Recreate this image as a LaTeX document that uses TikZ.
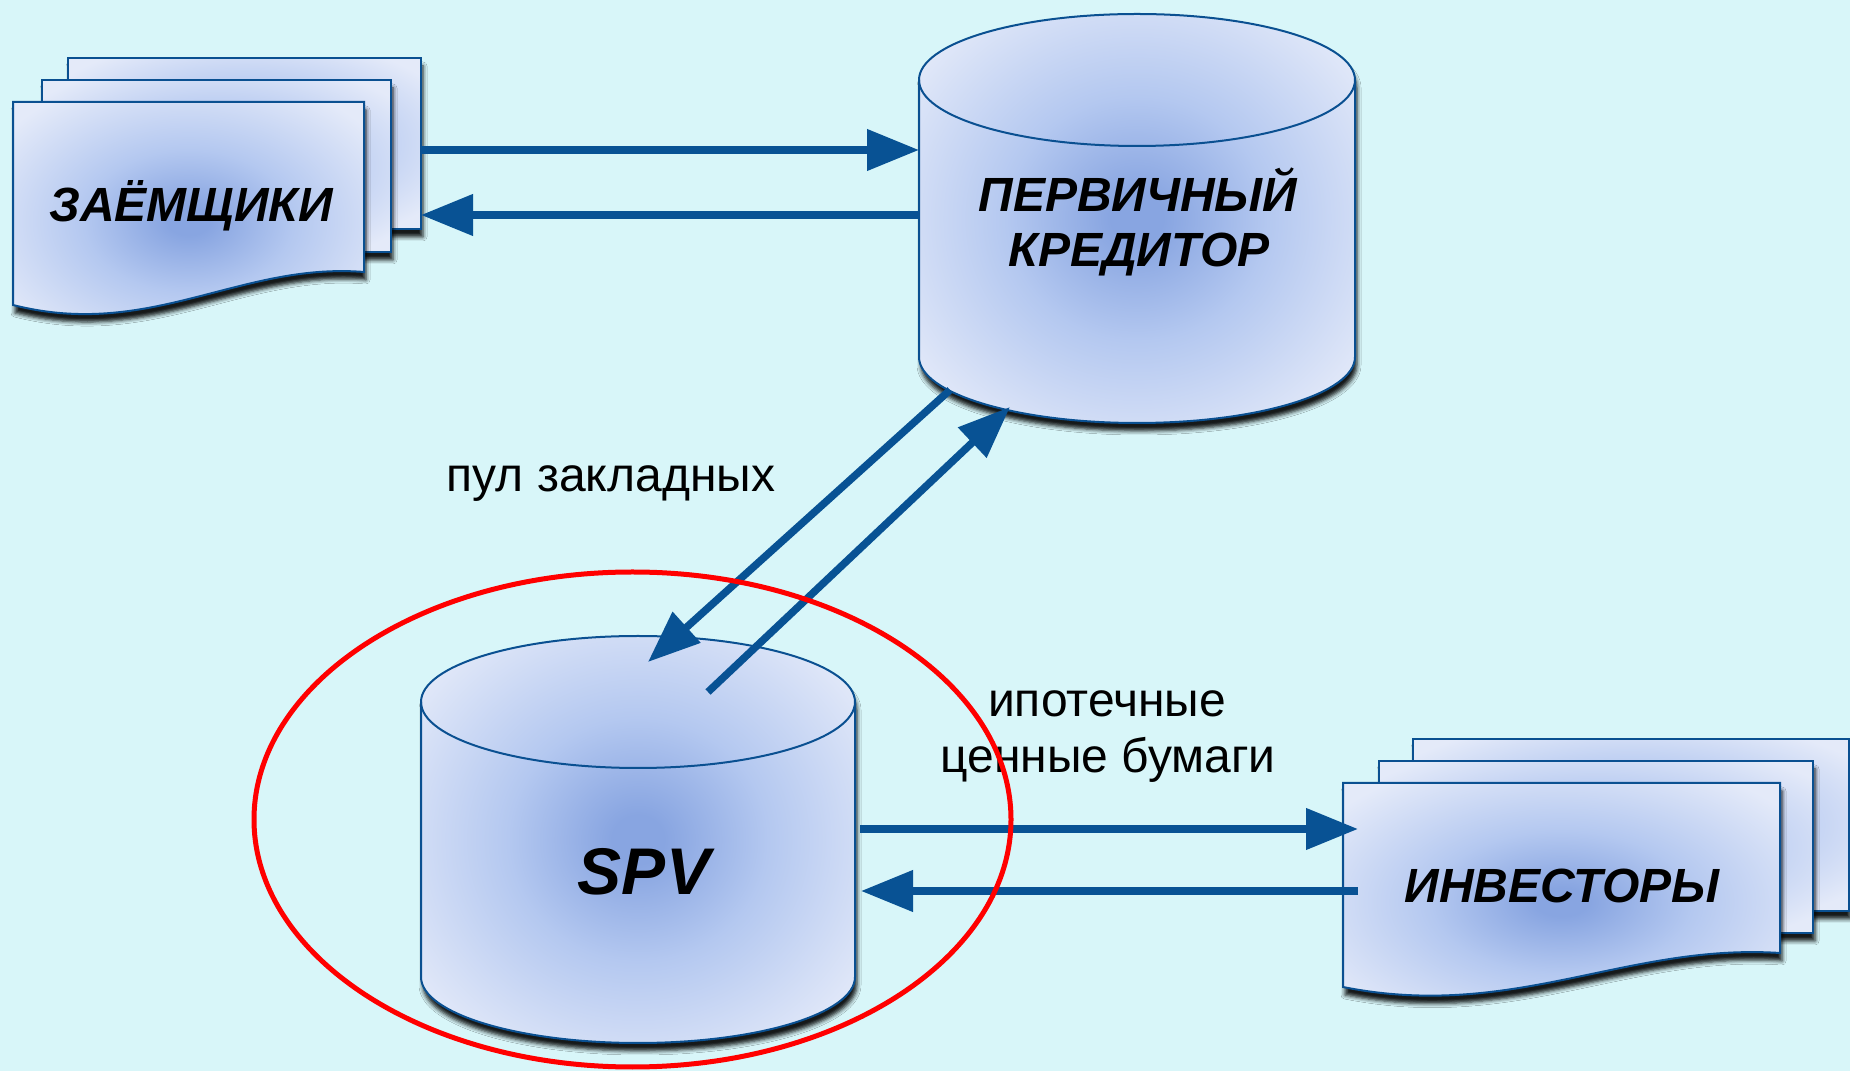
\documentclass[tikz,border=0pt]{standalone}
\usepackage{fontspec}
\setmainfont{Liberation Sans}
\usetikzlibrary{arrows.meta,shadows.blur}

\definecolor{bgcyan}{RGB}{216,246,249}
\definecolor{sheenin}{RGB}{136,165,225}
\definecolor{sheenmid}{RGB}{180,200,240}
\definecolor{sheenout}{RGB}{228,234,249}
\definecolor{edgeblue}{RGB}{10,80,145}
\definecolor{flowblue}{RGB}{8,82,148}

% soft radial sheen used on all solid shapes
\pgfdeclareradialshading{sheen}{\pgfpoint{0bp}{0bp}}{%
  color(0bp)=(sheenin); color(3bp)=(sheenin);
  color(15bp)=(sheenmid);
  color(32bp)=(sheenout); color(50bp)=(sheenout)}

\tikzset{
  solid body/.style={shade, shading=sheen, draw=edgeblue, line width=2pt,
    blur shadow={shadow xshift=2pt, shadow yshift=-8pt,
                 shadow blur radius=4pt, shadow opacity=90}},
  rim/.style={draw=edgeblue, line width=2pt},
  anchorbox/.style={inner sep=0pt, outer sep=0pt, draw=none},
  flow/.style={draw=flowblue, line width=7.5pt,
    -{Triangle[length=52pt, width=40pt]}},
  headline/.style={font=\fontsize{48}{56}\selectfont\bfseries\itshape,
    inner sep=0pt, anchor=base},
  note/.style={font=\fontsize{48}{56}\selectfont, inner sep=0pt, anchor=base},
}

\begin{document}
\begin{tikzpicture}[x=1pt, y=1pt]
  \useasboundingbox (0,0) rectangle (1850,1071);
  \fill[bgcyan] (0,0) rectangle (1850,1071);

  % --- borrowers: stack of documents ---
  \path[solid body] (68,842) rectangle (421,1013);
  \path[solid body] (42,819) rectangle (391,991);
  \path[solid body] (13,969) -- (364,969) -- (364,799)
     .. controls (240,809) and (150,731) .. (13,766) -- cycle;
  \node[anchorbox, minimum width=408pt, minimum height=256pt] (zaem) at (217,885) {};
  \node[headline] (zaemtext) at (191,849) {ЗАЁМЩИКИ};

  % --- primary lender: cylinder ---
  \path[solid body] (919,991) -- (919,714)
     arc[start angle=180, end angle=360, x radius=218, y radius=66]
     -- (1355,991)
     arc[start angle=0, end angle=180, x radius=218, y radius=66] -- cycle;
  \draw[rim] (1355,991) arc[start angle=0, end angle=-180, x radius=218, y radius=66];
  \node[anchorbox, minimum width=436pt, minimum height=408pt] (kred) at (1137,853) {};
  \node[headline] (kredtop) at (1138,859) {ПЕРВИЧНЫЙ};
  \node[headline] (kredbottom) at (1139,804) {КРЕДИТОР};

  % --- SPV: cylinder ---
  \path[solid body] (421,369) -- (421,94)
     arc[start angle=180, end angle=360, x radius=217, y radius=66]
     -- (855,369)
     arc[start angle=0, end angle=180, x radius=217, y radius=66] -- cycle;
  \draw[rim] (855,369) arc[start angle=0, end angle=-180, x radius=217, y radius=66];
  \node[anchorbox, minimum width=434pt, minimum height=408pt] (spv) at (638,232) {};
  \node[headline, font=\fontsize{66}{76}\selectfont\bfseries\itshape] (spvtext) at (644,176) {SPV};

  % --- investors: stack of documents ---
  \path[solid body] (1413,160) rectangle (1849,332);
  \path[solid body] (1379,138) rectangle (1813,310);
  \path[solid body] (1343,288) -- (1780,288) -- (1780,118)
     .. controls (1626,128) and (1513,50) .. (1343,84) -- cycle;
  \node[anchorbox, minimum width=506pt, minimum height=256pt] (inv) at (1596,204) {};
  \node[headline] (invtext) at (1562,168) {ИНВЕСТОРЫ};

  % --- flows ---
  \draw[flow] ([yshift=36pt]zaem.east) -- ([yshift=68pt]kred.west);
  \draw[flow] ([yshift=3pt]kred.west) -- ([yshift=-29pt]zaem.east);
  \draw[flow] ([shift={(-187pt,-172pt)}]kred.center) -- ([shift={(10pt,177pt)}]spv.center);
  \draw[flow] ([shift={(70pt,147pt)}]spv.center) -- ([shift={(-127pt,-189pt)}]kred.center);
  \draw[flow] ([shift={(5pt,10pt)}]spv.east) -- ([shift={(15pt,38pt)}]inv.west);
  \draw[flow] ([shift={(15pt,-24pt)}]inv.west) -- ([shift={(6pt,-52pt)}]spv.east);

  % --- captions ---
  \node[note] (pooltext) at (611,579) {пул закладных};
  \node[note] (secline1) at (1107,354) {ипотечные};
  \node[note] (secline2) at (1108,298) {ценные бумаги};

  % --- highlight around SPV ---
  \draw[red, line width=5pt] (632.5,251.5) ellipse [x radius=378.5, y radius=247.5];
\end{tikzpicture}
\end{document}
